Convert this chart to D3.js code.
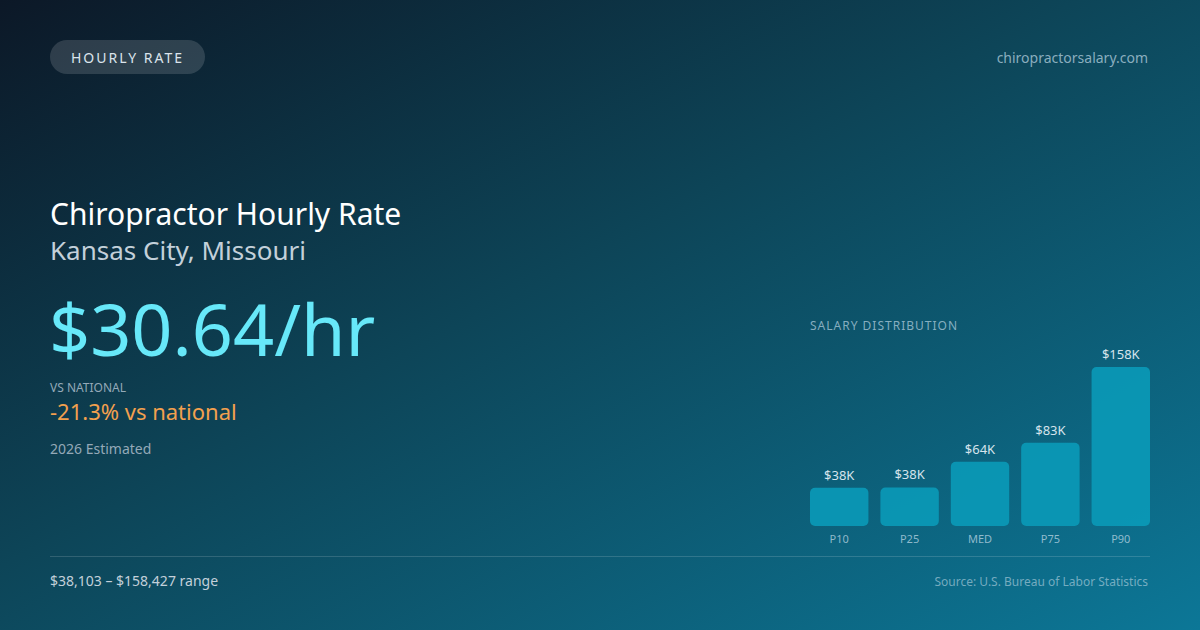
<!DOCTYPE html>
<html>
<head>
<meta charset="utf-8">
<script src="https://cdn.jsdelivr.net/npm/d3@7"></script>
<style>
  html, body { margin: 0; padding: 0; background: #0c1c2c; }
  svg { display: block; font-family: "Noto Sans", "Open Sans", sans-serif; }
</style>
</head>
<body>
<div id="chart"></div>
<script>
// chart data
const categories = ["P10", "P25", "MED", "P75", "P90"];
const salaries = [38103, 38400, 64000, 83000, 158427];
const valueLabels = ["$38K", "$38K", "$64K", "$83K", "$158K"];
const rangeLabel = "$38,103 \u2013 $158,427 range";

const width = 1200, height = 630;

const svg = d3.select("#chart")
    .append("svg")
    .attr("width", width)
    .attr("height", height);

// background gradient
const defs = svg.append("defs");
const bg = defs.append("linearGradient")
    .attr("id", "bg")
    .attr("x1", "0%").attr("y1", "0%")
    .attr("x2", "100%").attr("y2", "100%");
bg.append("stop").attr("offset", "0%").attr("stop-color", "#0c1827");
bg.append("stop").attr("offset", "45%").attr("stop-color", "#0d4558");
bg.append("stop").attr("offset", "100%").attr("stop-color", "#0c7797");

svg.append("rect")
    .attr("width", width)
    .attr("height", height)
    .attr("fill", "url(#bg)");

// header pill
svg.append("rect")
    .attr("x", 50).attr("y", 40)
    .attr("width", 155).attr("height", 34)
    .attr("rx", 17)
    .attr("fill", "rgba(255,255,255,0.14)");
svg.append("text")
    .attr("x", 127.5).attr("y", 62.5)
    .attr("text-anchor", "middle")
    .attr("fill", "#dbe4ec")
    .style("font-size", "14px")
    .style("letter-spacing", "2px")
    .text("HOURLY RATE");

svg.append("text")
    .attr("x", 1148).attr("y", 63)
    .attr("text-anchor", "end")
    .attr("fill", "rgba(190,215,228,0.72)")
    .style("font-size", "14px")
    .text("chiropractorsalary.com");

// headline block
svg.append("text")
    .attr("x", 50).attr("y", 225)
    .attr("fill", "#ffffff")
    .style("font-size", "30px")
    .text("Chiropractor Hourly Rate");
svg.append("text")
    .attr("x", 50).attr("y", 260)
    .attr("fill", "#c3d0da")
    .style("font-size", "26px")
    .text("Kansas City, Missouri");
svg.append("text")
    .attr("x", 49).attr("y", 356)
    .attr("fill", "#67e8f9")
    .style("font-size", "72px")
    .text("$30.64/hr");
svg.append("text")
    .attr("x", 50).attr("y", 392)
    .attr("fill", "#94a9b8")
    .style("font-size", "12px")
    .text("VS NATIONAL");
svg.append("text")
    .attr("x", 50).attr("y", 420)
    .attr("fill", "#f3a04e")
    .style("font-size", "22px")
    .text("-21.3% vs national");
svg.append("text")
    .attr("x", 50).attr("y", 454)
    .attr("fill", "#94a9b8")
    .style("font-size", "14px")
    .text("2026 Estimated");

// salary distribution bars
const chartLeft = 810, chartRight = 1150, chartBottom = 526, chartHeight = 159;

svg.append("text")
    .attr("x", chartLeft).attr("y", 330)
    .attr("fill", "rgba(190,215,228,0.7)")
    .style("font-size", "12px")
    .style("letter-spacing", "1px")
    .text("SALARY DISTRIBUTION");

const x = d3.scaleBand()
    .domain(categories)
    .range([chartLeft, chartRight])
    .paddingInner(0.17)
    .paddingOuter(0);

const y = d3.scaleLinear()
    .domain([0, d3.max(salaries)])
    .range([chartBottom, chartBottom - chartHeight]);

const bars = svg.append("g")
    .selectAll("g")
    .data(categories)
    .enter()
    .append("g");

bars.append("rect")
    .attr("x", (d) => x(d))
    .attr("y", (d, i) => y(salaries[i]))
    .attr("width", x.bandwidth())
    .attr("height", (d, i) => chartBottom - y(salaries[i]))
    .attr("rx", 5)
    .attr("fill", "#0a9ab8")
    .attr("fill-opacity", 0.9);

bars.append("text")
    .attr("x", (d) => x(d) + x.bandwidth() / 2)
    .attr("y", (d, i) => y(salaries[i]) - 8)
    .attr("text-anchor", "middle")
    .attr("fill", "#d6e4ec")
    .style("font-size", "13px")
    .text((d, i) => valueLabels[i]);

bars.append("text")
    .attr("x", (d) => x(d) + x.bandwidth() / 2)
    .attr("y", chartBottom + 17)
    .attr("text-anchor", "middle")
    .attr("fill", "rgba(190,215,228,0.75)")
    .style("font-size", "11px")
    .text((d) => d);

// footer
svg.append("line")
    .attr("x1", 50).attr("x2", 1150)
    .attr("y1", 556.5).attr("y2", 556.5)
    .attr("stroke", "rgba(255,255,255,0.15)");

svg.append("text")
    .attr("x", 50).attr("y", 586)
    .attr("fill", "#c3d0da")
    .style("font-size", "14px")
    .text(rangeLabel);

svg.append("text")
    .attr("x", 1148).attr("y", 586)
    .attr("text-anchor", "end")
    .attr("fill", "rgba(190,215,228,0.6)")
    .style("font-size", "12px")
    .text("Source: U.S. Bureau of Labor Statistics");
</script>
</body>
</html>
